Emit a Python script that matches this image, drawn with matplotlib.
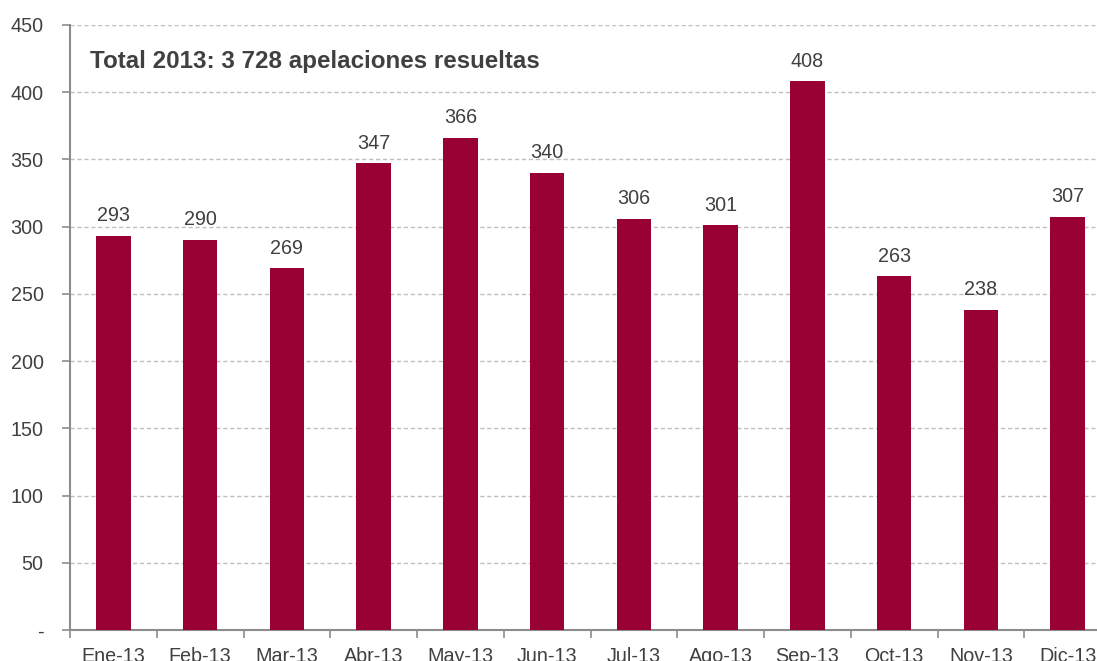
import matplotlib
matplotlib.use("Agg")
import matplotlib.pyplot as plt
import numpy as np

# data
months = ["Ene-13", "Feb-13", "Mar-13", "Abr-13", "May-13", "Jun-13",
          "Jul-13", "Ago-13", "Sep-13", "Oct-13", "Nov-13", "Dic-13"]
appeals = [293, 290, 269, 347, 366, 340, 306, 301, 408, 263, 238, 307]
y_ticks = [0, 50, 100, 150, 200, 250, 300, 350, 400, 450]
y_tick_labels = ["-", "50", "100", "150", "200", "250", "300", "350", "400", "450"]

BAR_COLOR = "#990033"
TEXT_COLOR = "#404040"
AXIS_COLOR = "#8c8c8c"

plt.rcParams["font.family"] = ["Liberation Sans", "DejaVu Sans"]

fig = plt.figure(figsize=(10.97, 6.61), dpi=100)
ax = fig.add_axes([70 / 1097, 31 / 661, 1041 / 1097, 605 / 661])

x = np.arange(len(months))
ax.bar(x, appeals, width=0.4, color=BAR_COLOR, zorder=3)

for xi, v in zip(x, appeals):
    ax.text(xi, v + 8, str(v), ha="center", va="bottom",
            fontsize=14.2, color=TEXT_COLOR)

ax.set_xlim(-0.5, len(months) - 0.5)
ax.set_ylim(0, 450)
ax.set_yticks(y_ticks)
ax.set_yticklabels(y_tick_labels)

# ticks at category boundaries, labels centred under bars
ax.set_xticks(np.arange(-0.5, len(months), 1.0))
ax.set_xticklabels([])
ax.set_xticks(x, minor=True)
ax.set_xticklabels(months, minor=True)
ax.tick_params(axis="x", which="minor", length=0, pad=12,
               labelsize=14.2, labelcolor=TEXT_COLOR)
ax.tick_params(axis="x", which="major", length=6, width=1.2, color=AXIS_COLOR,
               direction="out")
ax.tick_params(axis="y", length=6, width=1.2, color=AXIS_COLOR, pad=13,
               labelsize=14.2, labelcolor=TEXT_COLOR)

ax.yaxis.grid(True, linestyle=(0, (3, 2)), color="#bfbfbf", linewidth=1, zorder=0)
ax.set_axisbelow(True)

for side in ("top", "right"):
    ax.spines[side].set_visible(False)
for side in ("left", "bottom"):
    ax.spines[side].set_color(AXIS_COLOR)
    ax.spines[side].set_linewidth(1.5)

ax.text(20 / 1041, 0.94, "Total 2013: 3 728 apelaciones resueltas",
        transform=ax.transAxes, ha="left", va="center",
        fontsize=17.4, fontweight="bold", color=TEXT_COLOR)

fig.savefig("out.png", dpi=100)
